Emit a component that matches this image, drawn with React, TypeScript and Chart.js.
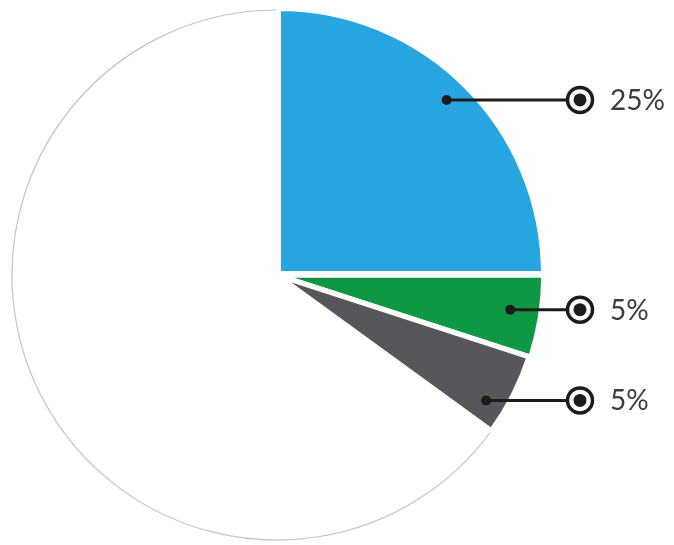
import React, { useEffect, useRef } from "react";
import { Chart, registerables } from "chart.js";

Chart.register(...registerables);

// Data (slice order: remainder first, then the three highlighted slices clockwise from the top)
const categories = ["Other", "Segment A", "Segment B", "Segment C"];
const values = [65, 25, 5, 5];
const sliceColors = ["#ffffff", "#27a5e1", "#0f9744", "#57565b"];
const labelled = [false, true, true, true];

const calloutPlugin = {
  id: "callouts",
  afterDatasetsDraw(chart: any, _args: any, opts: any) {
    const ctx = chart.ctx;
    const meta = chart.getDatasetMeta(0);
    const data = chart.data.datasets[0].data as number[];
    meta.data.forEach((arc: any, i: number) => {
      if (!labelled[i]) return;
      const { x, y, startAngle, endAngle, outerRadius } = arc.getProps(
        ["x", "y", "startAngle", "endAngle", "outerRadius"],
        true
      );
      const frac = opts.angleFrac[i];
      const rf = opts.radiusFrac[i];
      const a = startAngle + (endAngle - startAngle) * frac;
      const dx = x + Math.cos(a) * outerRadius * rf;
      const dy = y + Math.sin(a) * outerRadius * rf;
      const mx = x + outerRadius + opts.markerGap;
      ctx.save();
      ctx.strokeStyle = "#1c1c1c";
      ctx.fillStyle = "#1c1c1c";
      ctx.lineWidth = 3;
      ctx.beginPath();
      ctx.moveTo(dx, dy);
      ctx.lineTo(mx - 12, dy);
      ctx.stroke();
      ctx.beginPath();
      ctx.arc(dx, dy, 5, 0, Math.PI * 2);
      ctx.fill();
      // ring marker
      ctx.beginPath();
      ctx.arc(mx, dy, 12.5, 0, Math.PI * 2);
      ctx.fillStyle = "#ffffff";
      ctx.fill();
      ctx.lineWidth = 3.5;
      ctx.stroke();
      ctx.beginPath();
      ctx.arc(mx, dy, 6.5, 0, Math.PI * 2);
      ctx.fillStyle = "#1c1c1c";
      ctx.fill();
      // text
      ctx.fillStyle = "#3c3c3c";
      ctx.font = "28px Lato, 'DejaVu Sans', sans-serif";
      ctx.textAlign = "left";
      ctx.textBaseline = "middle";
      ctx.fillText(data[i] + "%", mx + opts.textGap, dy + 1);
      ctx.restore();
    });
  },
};

export default function App() {
  const canvasRef = useRef<HTMLCanvasElement | null>(null);

  useEffect(() => {
    if (!canvasRef.current) return;
    const chart = new Chart(canvasRef.current, {
      type: "pie",
      data: {
        labels: categories,
        datasets: [
          {
            data: values,
            backgroundColor: sliceColors,
            borderColor: ["#c4c4c4", "#ffffff", "#ffffff", "#ffffff"],
            borderWidth: [1.2, 5, 5, 5],
            offset: [0, 8, 4, 0],
            radius: 265,
          },
        ],
      },
      options: {
        responsive: false,
        animation: false,
        rotation: 126,
        layout: { padding: { left: 0, right: 120, top: 5, bottom: 0 } },
        plugins: {
          legend: { display: false },
          tooltip: { enabled: false },
          callouts: {
            angleFrac: [0, 0.49, 0.47, 0.72],
            radiusFrac: [0, 0.92, 0.89, 0.92],
            markerGap: 38,
            textGap: 30,
          },
        } as any,
      },
      plugins: [calloutPlugin],
    });
    return () => chart.destroy();
  }, []);

  return (
    <div style={{ position: "absolute", left: 0, top: 0, width: 674, height: 545, background: "#ffffff" }}>
      <canvas ref={canvasRef} width={674} height={545} />
    </div>
  );
}
